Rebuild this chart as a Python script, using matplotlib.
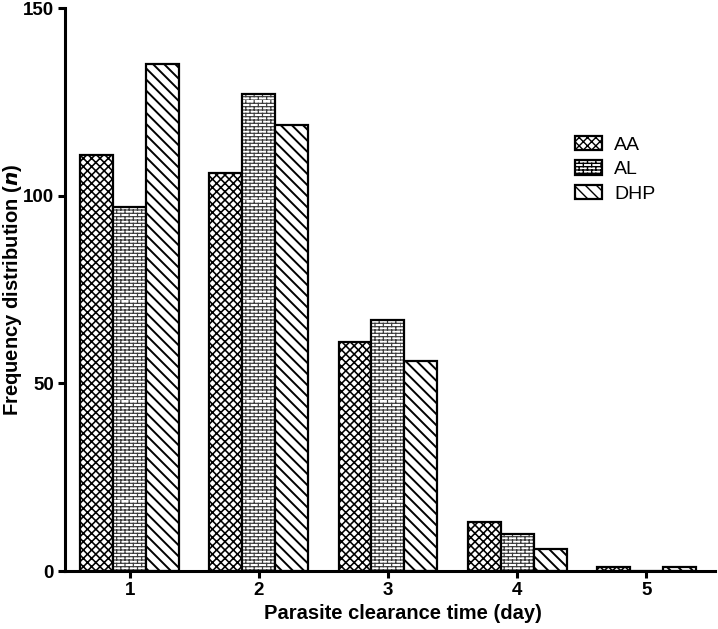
import warnings
import numpy as np
import matplotlib
matplotlib.use("Agg")
import matplotlib.pyplot as plt
from matplotlib import hatch as mhatch
from matplotlib.path import Path

warnings.filterwarnings("ignore")
plt.rcParams['font.family'] = ['Liberation Sans', 'DejaVu Sans']


# patrón de ladrillos para la serie AL (carácter 'b')
class BrickHatch(mhatch.HatchPatternBase):
    def __init__(self, hatch, density):
        self.num_rows = int(hatch.count('b') * density)
        self.num_cols = max(1, int(self.num_rows / 2.5))
        self.num_vertices = 2 * self.num_rows * (1 + self.num_cols) if self.num_rows else 0

    def set_vertices_and_codes(self, vertices, codes):
        n, k = self.num_rows, self.num_cols
        dy = 1.0 / n
        idx = 0
        for i in range(n):
            y = i * dy
            vertices[idx] = (0, y)
            vertices[idx + 1] = (1, y)
            idx += 2
            off = 0.5 / k if i % 2 else 0.0
            for j in range(k):
                xx = j / k + off
                vertices[idx] = (xx, y)
                vertices[idx + 1] = (xx, y + dy)
                idx += 2
        codes[0::2] = Path.MOVETO
        codes[1::2] = Path.LINETO


mhatch._hatch_types.append(BrickHatch)

# Datos
days = [1, 2, 3, 4, 5]
aa = [111, 106, 61, 13, 1]
al = [97, 127, 67, 10, 0]
dhp = [135, 119, 56, 6, 1]

series = [("AA", aa, "xxxx", 'black', 1.15),
          ("AL", al, "bbbbb", '#3a3a3a', 0.85),
          ("DHP", dhp, "\\\\\\", 'black', 1.4)]

fig = plt.figure(figsize=(7.18, 6.29), dpi=100)
ax = fig.add_axes([0.0905, 0.092, 0.905, 0.895])

x = np.array(days, dtype=float)
w = 0.255
handles = []
for i, (name, vals, hatch, hc, hlw) in enumerate(series):
    pos = x + (i - 1) * w
    # relleno con trama
    bars = ax.bar(pos, vals, width=w, color='white', edgecolor=hc,
                  linewidth=0, hatch=hatch)
    for b in bars:
        try:
            b.set_hatch_linewidth(hlw)
        except AttributeError:
            pass
    # contorno negro
    ax.bar(pos, vals, width=w, fill=False, edgecolor='black', linewidth=1.6)
    h = plt.Rectangle((0, 0), 1, 1, facecolor='white', edgecolor='black',
                      linewidth=1.6, hatch=hatch)
    try:
        h.set_hatch_linewidth(hlw)
    except AttributeError:
        pass
    handles.append(h)

ax.set_xlim(0.5, 5.53)
ax.set_ylim(0, 150)
ax.set_yticks([0, 50, 100, 150])
ax.set_xticks(days)

for s in ['top', 'right']:
    ax.spines[s].set_visible(False)
for s in ['left', 'bottom']:
    ax.spines[s].set_linewidth(2.2)
ax.tick_params(width=2.2, length=5, labelsize=13.5, pad=3)
for lab in ax.get_xticklabels() + ax.get_yticklabels():
    lab.set_fontweight('bold')

ax.set_xlabel("Parasite clearance time (day)", fontsize=14.5, fontweight='bold')
ax.xaxis.set_label_coords(0.52, -0.058)
ax.set_ylabel("Frequency distribution ($\\mathbfit{n}$)", fontsize=14.5, fontweight='bold')
ax.yaxis.set_label_coords(-0.063, 0.5)

ax.legend(handles, [s[0] for s in series], loc='upper left',
          bbox_to_anchor=(0.77, 0.79), frameon=False, borderpad=0,
          fontsize=14, handlelength=1.4, handleheight=0.75,
          labelspacing=0.33, handletextpad=0.6)

fig.savefig("out.png", dpi=100)
